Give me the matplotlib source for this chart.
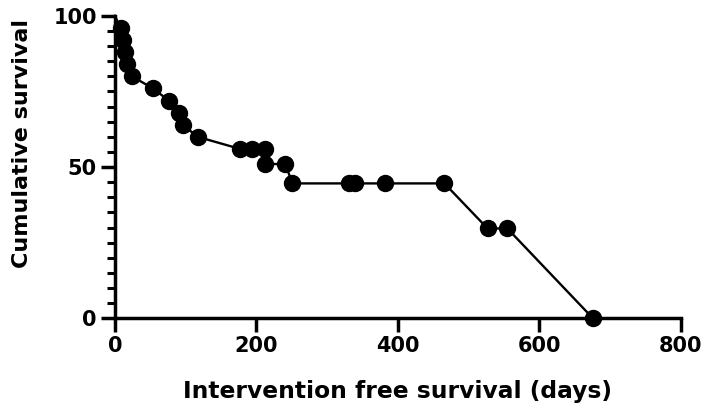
import matplotlib
matplotlib.use("Agg")
import matplotlib.pyplot as plt
from matplotlib.ticker import MultipleLocator

plt.rcParams['font.family'] = ['DejaVu Sans']
plt.rcParams['font.weight'] = 'bold'

# -------------------------------
# Data
# -------------------------------
days = [0, 8, 12, 14, 17, 24, 54, 76, 91, 96, 117, 177, 194, 212, 212,
        241, 251, 331, 340, 382, 466, 527, 555, 676]
survival = [100, 96, 92, 88, 84, 80, 76, 72, 68, 64, 60, 56, 56, 56, 51,
            51, 44.6, 44.6, 44.6, 44.6, 44.6, 29.7, 29.7, 0]

x_ticks = [0, 200, 400, 600, 800]
y_ticks = [0, 50, 100]

# -------------------------------
# Figure
# -------------------------------
fig = plt.figure(figsize=(7.09, 4.11), dpi=100)
ax = fig.add_axes([0.162, 0.2255, 0.798, 0.736])

ax.plot(days, survival, color='black', lw=1.7, clip_on=False, zorder=3)
ax.plot(days[1:], survival[1:], 'o', color='black', ms=11.5,
        clip_on=False, zorder=4)

ax.set_xlim(0, 800)
ax.set_ylim(0, 100)
ax.set_xticks(x_ticks)
ax.set_yticks(y_ticks)
ax.yaxis.set_minor_locator(MultipleLocator(5))

for side in ['top', 'right']:
    ax.spines[side].set_visible(False)
for side in ['left', 'bottom']:
    ax.spines[side].set_linewidth(2.5)

ax.tick_params(axis='both', which='major', width=2.5, length=10,
               labelsize=15, pad=3)
ax.tick_params(axis='y', which='minor', width=2.2, length=6)

ax.set_xlabel("Intervention free survival (days)", fontsize=16.8,
              fontweight='bold')
ax.set_ylabel("Cumulative survival", fontsize=16, fontweight='bold')
ax.xaxis.set_label_coords(0.5, -0.204)
ax.yaxis.set_label_coords(-0.147, 0.578)

fig.savefig("out.png", dpi=100)
